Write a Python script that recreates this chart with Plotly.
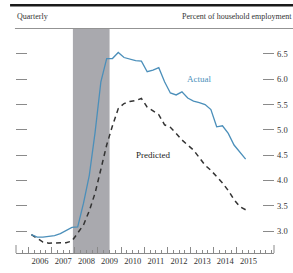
import plotly.graph_objects as go

quarters = [f"{y}Q{q}" for y in range(2006, 2016) for q in range(1, 5)][:38]

actual = [2.93, 2.88, 2.88, 2.90,
          2.91, 2.95, 3.01, 3.07,
          3.08, 3.55, 4.10, 4.95,
          5.95, 6.41, 6.41, 6.53,
          6.43, 6.40, 6.37, 6.36,
          6.15, 6.18, 6.23, 5.95,
          5.73, 5.69, 5.75, 5.63,
          5.57, 5.54, 5.50, 5.40,
          5.06, 5.08, 4.93, 4.70,
          4.55, 4.42]

predicted = [2.93, 2.85, 2.78, 2.76,
             2.76, 2.76, 2.77, 2.80,
             2.95, 3.12, 3.40, 3.75,
             4.22, 4.70, 5.08, 5.42,
             5.52, 5.56, 5.58, 5.62,
             5.45, 5.37, 5.30, 5.10,
             5.05, 4.93, 4.80, 4.70,
             4.60, 4.45, 4.30, 4.20,
             4.08, 3.95, 3.80, 3.62,
             3.48, 3.42]

years = list(range(2006, 2016))
ytick_vals = [3.0, 3.5, 4.0, 4.5, 5.0, 5.5, 6.0, 6.5]
recession = (2007.917, 2009.5)

def qx(s):
    y, q = s.split("Q")
    return int(y) + (int(q) - 0.5) / 4

xs = [qx(s) for s in quarters]

XR = [2005.46, 2016.6]
YR = [2.565, 6.994]
SERIF = "Liberation Serif"
TXT = "#333333"
TICK = "#8a8a8a"

H_PAPER = 253.0
TOP = (H_PAPER - 29) / H_PAPER   # top of data area in paper units

def py(pix):
    return (H_PAPER - pix) / H_PAPER

fig = go.Figure()
fig.add_trace(go.Scatter(x=xs, y=predicted, mode="lines",
                         line=dict(color="#333333", width=1.5, dash="5px,4px"),
                         showlegend=False, hoverinfo="skip"))
fig.add_trace(go.Scatter(x=xs, y=actual, mode="lines",
                         line=dict(color="#4b8fba", width=1.3),
                         showlegend=False, hoverinfo="skip"))
fig.add_trace(go.Scatter(x=[None], y=[None], xaxis="x2", yaxis="y2",
                         showlegend=False, hoverinfo="skip"))

fig.add_shape(type="rect", xref="x", yref="paper", x0=recession[0], x1=recession[1],
              y0=0, y1=TOP, fillcolor="#a9a9ae", line=dict(width=0), layer="below")

# header rules
fig.add_shape(type="rect", xref="paper", yref="paper", x0=-0.023, x1=1.08,
              y0=py(6.5), y1=py(4), fillcolor="#1a1a1a", line=dict(width=0))
fig.add_shape(type="line", xref="paper", yref="paper", x0=-0.004, x1=1.08,
              y0=py(28.5), y1=py(28.5), line=dict(color="#777777", width=0.8))
# end ticks on x axis
for px in [0, 1]:
    fig.add_shape(type="line", xref="paper", yref="paper", x0=px, x1=px,
                  y0=0, y1=py(245), line=dict(color=TICK, width=1))

fig.add_annotation(text="Quarterly", xref="paper", yref="paper", x=-0.004, y=py(17),
                   xanchor="left", yanchor="middle", showarrow=False,
                   font=dict(family=SERIF, size=8, color=TXT))
fig.add_annotation(text="Percent of household employment", xref="paper", yref="paper",
                   x=1.078, y=py(17), xanchor="right", yanchor="middle", showarrow=False,
                   font=dict(family=SERIF, size=8, color=TXT))
fig.add_annotation(text="Actual", x=2013.36, y=6.0, showarrow=False,
                   font=dict(family=SERIF, size=9, color="#4b8fba"))
fig.add_annotation(text="Predicted", x=2011.38, y=4.5, showarrow=False,
                   font=dict(family=SERIF, size=9, color="#222222"))

fig.update_layout(
    width=293, height=273,
    margin=dict(l=16, r=19, t=0, b=20),
    paper_bgcolor="white", plot_bgcolor="white",
    xaxis=dict(range=XR, tickvals=[y + 0.5 for y in years], ticktext=[str(y) for y in years],
               ticks="", showgrid=False, zeroline=False, showline=True,
               linecolor=TICK, linewidth=1,
               tickfont=dict(family=SERIF, size=8.5, color=TXT)),
    xaxis2=dict(range=XR, overlaying="x", side="bottom", tickvals=years,
                ticks="inside", ticklen=6, tickcolor=TICK, tickwidth=1,
                showticklabels=False, showgrid=False, zeroline=False, showline=False,
                minor=dict(tickvals=[y + q / 4 for y in range(2005, 2017) for q in range(4)],
                           ticks="inside", ticklen=3, tickcolor=TICK, tickwidth=1, showgrid=False)),
    yaxis=dict(range=YR, domain=[0, TOP], side="right", tickvals=ytick_vals,
               ticktext=[f"{v:.1f}" for v in ytick_vals],
               ticks="inside", ticklen=11, tickcolor=TICK, tickwidth=1,
               showgrid=False, zeroline=False, showline=False, ticklabelstandoff=2,
               tickfont=dict(family=SERIF, size=8.5, color=TXT)),
    yaxis2=dict(range=YR, domain=[0, TOP], overlaying="y", side="left", tickvals=ytick_vals,
                ticks="inside", ticklen=11, tickcolor=TICK, tickwidth=1,
                showticklabels=False, showgrid=False, zeroline=False, showline=False),
)

fig.write_html("out.html", config={"displayModeBar": False},
               post_script="document.body.style.margin='0';document.body.style.overflow='hidden';")
